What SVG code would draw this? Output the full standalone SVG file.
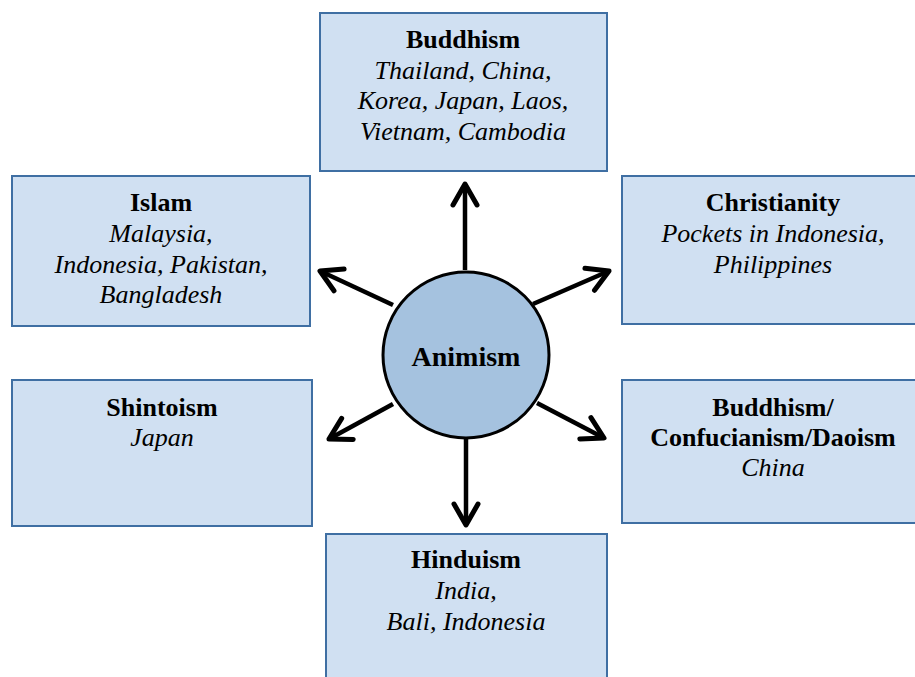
<svg xmlns="http://www.w3.org/2000/svg" width="915" height="677" viewBox="0 0 915 677">
<defs>
<marker id="ah" markerUnits="userSpaceOnUse" markerWidth="40" markerHeight="40" viewBox="-30 -20 40 40" refX="0" refY="0" orient="auto">
<path d="M-21,-12 L0,0 L-21,12" fill="none" stroke="#000" stroke-width="5" stroke-linecap="round" stroke-linejoin="round"/>
</marker>
</defs>
<rect width="915" height="677" fill="#fff"/>
<g id="connectors" stroke="#000" stroke-width="4.5" fill="none">
<line x1="465" y1="270" x2="465" y2="184" marker-end="url(#ah)"/>
<line x1="393" y1="305" x2="320" y2="271" marker-end="url(#ah)"/>
<line x1="533" y1="304" x2="609" y2="271" marker-end="url(#ah)"/>
<line x1="393" y1="404" x2="329" y2="439" marker-end="url(#ah)"/>
<line x1="537" y1="403" x2="604" y2="438" marker-end="url(#ah)"/>
<line x1="466" y1="439" x2="466" y2="525" marker-end="url(#ah)"/>
</g>
<g id="buddhism">
<rect x="320" y="13" width="287" height="158" fill="#d0e0f2" stroke="#3f6fa3" stroke-width="2"/>
<text font-family="Liberation Serif" font-size="26" text-anchor="middle" font-weight="bold" x="463" y="48">Buddhism</text>
<text font-family="Liberation Serif" font-size="26" text-anchor="middle" font-style="italic" x="463" y="79">Thailand, China,</text>
<text font-family="Liberation Serif" font-size="26" text-anchor="middle" font-style="italic" x="463" y="109">Korea, Japan, Laos,</text>
<text font-family="Liberation Serif" font-size="26" text-anchor="middle" font-style="italic" x="463" y="140">Vietnam, Cambodia</text>
</g>
<g id="islam">
<rect x="12" y="176" width="298" height="150" fill="#d0e0f2" stroke="#3f6fa3" stroke-width="2"/>
<text font-family="Liberation Serif" font-size="26" text-anchor="middle" font-weight="bold" x="161" y="211">Islam</text>
<text font-family="Liberation Serif" font-size="26" text-anchor="middle" font-style="italic" x="161" y="242">Malaysia,</text>
<text font-family="Liberation Serif" font-size="26" text-anchor="middle" font-style="italic" x="161" y="273">Indonesia, Pakistan,</text>
<text font-family="Liberation Serif" font-size="26" text-anchor="middle" font-style="italic" x="161" y="303">Bangladesh</text>
</g>
<g id="christianity">
<rect x="622" y="176" width="305" height="148" fill="#d0e0f2" stroke="#3f6fa3" stroke-width="2"/>
<text font-family="Liberation Serif" font-size="26" text-anchor="middle" font-weight="bold" x="773" y="211">Christianity</text>
<text font-family="Liberation Serif" font-size="26" text-anchor="middle" font-style="italic" x="773" y="242">Pockets in Indonesia,</text>
<text font-family="Liberation Serif" font-size="26" text-anchor="middle" font-style="italic" x="773" y="273">Philippines</text>
</g>
<g id="shintoism">
<rect x="12" y="380" width="300" height="146" fill="#d0e0f2" stroke="#3f6fa3" stroke-width="2"/>
<text font-family="Liberation Serif" font-size="26" text-anchor="middle" font-weight="bold" x="162" y="416">Shintoism</text>
<text font-family="Liberation Serif" font-size="26" text-anchor="middle" font-style="italic" x="162" y="446">Japan</text>
</g>
<g id="confucianism">
<rect x="622" y="380" width="305" height="143" fill="#d0e0f2" stroke="#3f6fa3" stroke-width="2"/>
<text font-family="Liberation Serif" font-size="26" text-anchor="middle" font-weight="bold" x="773" y="416">Buddhism/</text>
<text font-family="Liberation Serif" font-size="26" text-anchor="middle" font-weight="bold" x="773" y="446">Confucianism/Daoism</text>
<text font-family="Liberation Serif" font-size="26" text-anchor="middle" font-style="italic" x="773" y="476">China</text>
</g>
<g id="hinduism">
<rect x="326" y="534" width="281" height="160" fill="#d0e0f2" stroke="#3f6fa3" stroke-width="2"/>
<text font-family="Liberation Serif" font-size="26" text-anchor="middle" font-weight="bold" x="466" y="568">Hinduism</text>
<text font-family="Liberation Serif" font-size="26" text-anchor="middle" font-style="italic" x="466" y="599">India,</text>
<text font-family="Liberation Serif" font-size="26" text-anchor="middle" font-style="italic" x="466" y="630">Bali, Indonesia</text>
</g>
<g id="animism">
<circle cx="466" cy="355" r="83" fill="#a5c2df" stroke="#000" stroke-width="3"/>
<text font-family="Liberation Serif" font-size="28" text-anchor="middle" font-weight="bold" x="466" y="366">Animism</text>
</g>
</svg>
